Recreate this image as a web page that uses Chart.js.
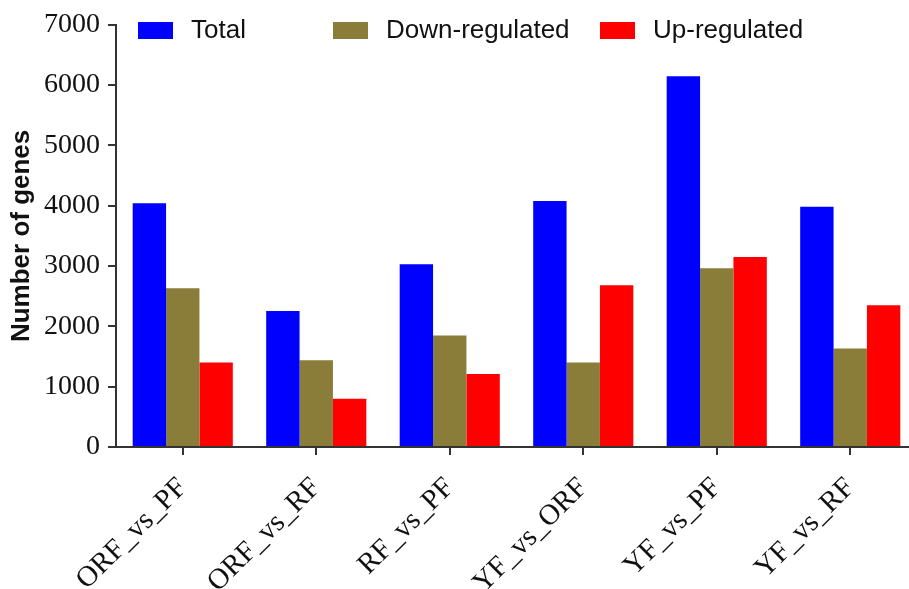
<!DOCTYPE html>
<html>
<head>
<meta charset="utf-8">
<title>DEG counts</title>
<script src="https://cdn.jsdelivr.net/npm/chart.js@4.4.1/dist/chart.umd.min.js"></script>
<style>
  html, body { margin: 0; padding: 0; background: #fff; overflow: hidden; width: 909px; height: 589px; }
  canvas { display: block; }
</style>
</head>
<body>
<canvas id="degChart" width="917" height="589" style="width:917px;height:589px"></canvas>
<script>
// comparisons and gene counts per group
const comparisons = ['ORF_vs_PF', 'ORF_vs_RF', 'RF_vs_PF', 'YF_vs_ORF', 'YF_vs_PF', 'YF_vs_RF'];
const totalGenes = [4040, 2255, 3030, 4080, 6145, 3985];
const downGenes = [2630, 1440, 1850, 1400, 2965, 1635];
const upGenes = [1400, 800, 1210, 2680, 3150, 2350];
const yTicks = [0, 1000, 2000, 3000, 4000, 5000, 6000, 7000];

const serif = '"Liberation Serif", "Times New Roman", serif';
const sans = '"Liberation Sans", Arial, sans-serif';

// legend drawn along the top edge, one slot per dataset
const legendSlots = [138, 333, 600];
const topLegend = {
    id: 'topLegend',
    afterDraw(chart) {
        const c = chart.ctx;
        c.save();
        c.font = '26px ' + sans;
        c.textBaseline = 'middle';
        chart.data.datasets.forEach((ds, i) => {
            const x = legendSlots[i];
            c.fillStyle = ds.backgroundColor;
            c.fillRect(x, 22, 35, 17);
            c.fillStyle = '#111';
            c.fillText(ds.label, x + 53, 31);
        });
        c.restore();
    }
};

document.addEventListener('DOMContentLoaded', function() {
    const ctx = document.getElementById('degChart');
    new Chart(ctx, {
        type: 'bar',
        data: {
            labels: comparisons,
            datasets: [{
                label: 'Total',
                data: totalGenes,
                backgroundColor: '#0000ff'
            }, {
                label: 'Down-regulated',
                data: downGenes,
                backgroundColor: '#8a7c39'
            }, {
                label: 'Up-regulated',
                data: upGenes,
                backgroundColor: '#ff0000'
            }]
        },
        options: {
            responsive: false,
            animation: false,
            layout: { padding: { top: 24, right: 0, left: 0, bottom: 0 } },
            datasets: {
                bar: { categoryPercentage: 0.75, barPercentage: 1.0 }
            },
            plugins: {
                legend: { display: false },
                tooltip: { enabled: false }
            },
            scales: {
                x: {
                    grid: { display: true, drawOnChartArea: false, offset: false, tickLength: 8, color: '#333', lineWidth: 2 },
                    border: { display: true, color: '#333', width: 2 },
                    ticks: {
                        color: '#111',
                        font: { family: serif, size: 29 },
                        maxRotation: 45,
                        minRotation: 45,
                        padding: 16
                    },
                    afterFit(scale) { scale.height = 142; }
                },
                y: {
                    min: 0,
                    max: 7000,
                    afterBuildTicks(scale) { scale.ticks = yTicks.map(v => ({ value: v })); },
                    grid: { display: true, drawOnChartArea: false, tickLength: 8, color: '#333', lineWidth: 2 },
                    border: { display: true, color: '#333', width: 2 },
                    ticks: {
                        color: '#111',
                        font: { family: serif, size: 28 },
                        padding: 8,
                        callback: v => String(v)
                    },
                    title: {
                        display: true,
                        text: 'Number of genes',
                        color: '#111',
                        font: { family: sans, size: 26, weight: 'bold' },
                        padding: { top: 6, bottom: 0 }
                    },
                    afterFit(scale) { scale.width = 116; }
                }
            }
        },
        plugins: [topLegend]
    });
});
</script>
</body>
</html>
